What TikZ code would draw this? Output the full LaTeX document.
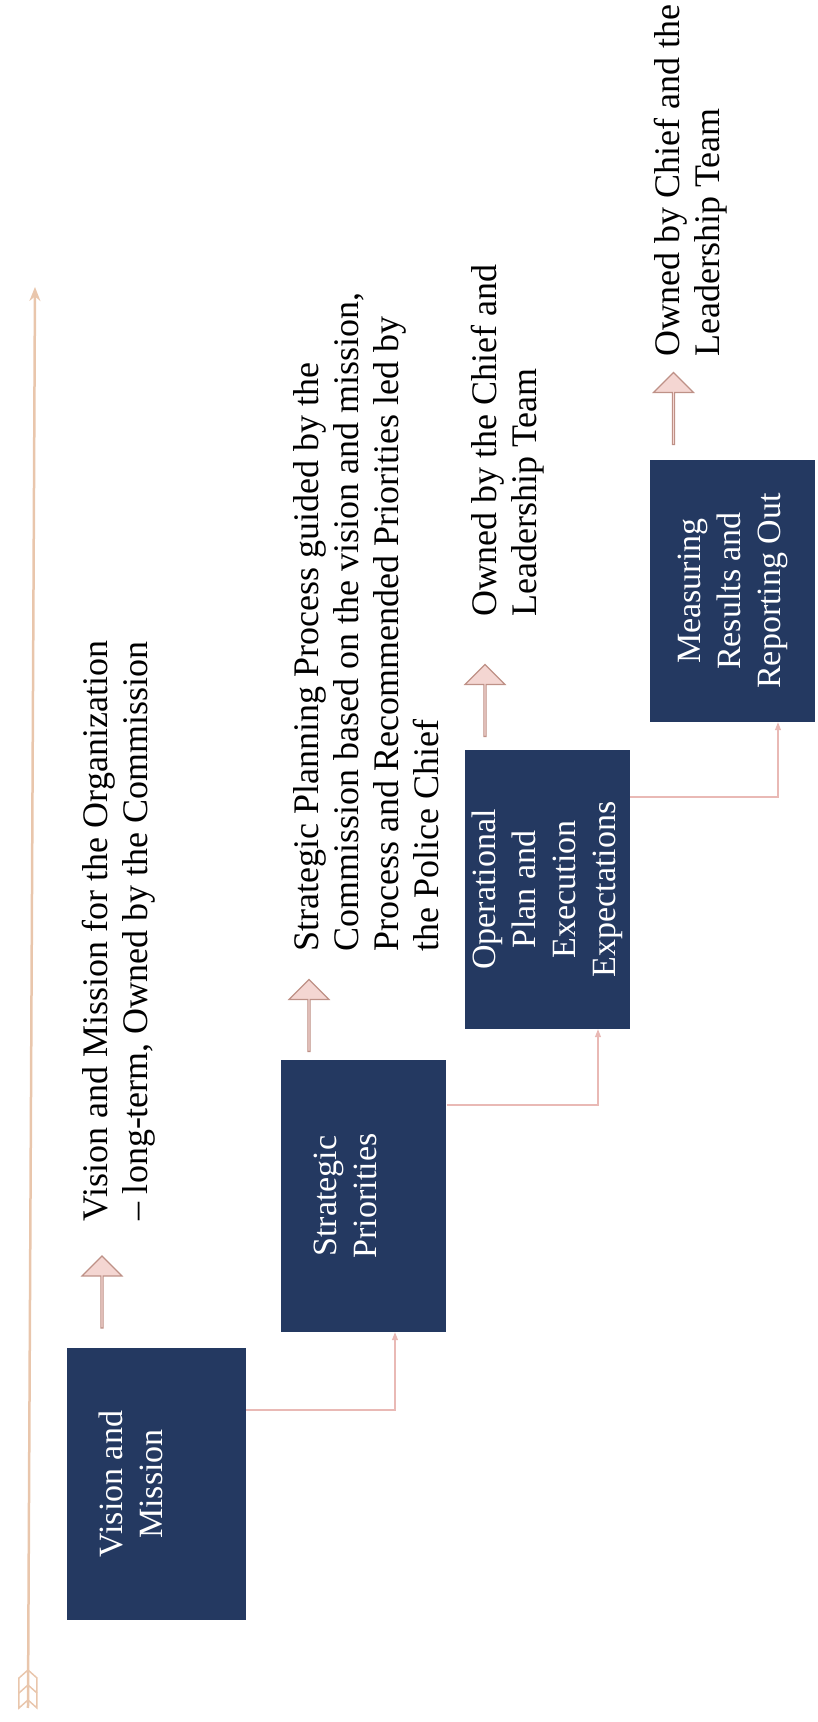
\documentclass[tikz,border=0pt]{standalone}
\usepackage{fontspec}
\setmainfont{Liberation Serif}
\usetikzlibrary{arrows.meta,calc,shapes.arrows}
\definecolor{navy}{RGB}{36,57,97}
\definecolor{linkpink}{RGB}{233,185,181}
\definecolor{arrowfill}{RGB}{244,214,210}
\definecolor{arrowedge}{RGB}{190,145,135}
\definecolor{timeline}{RGB}{233,198,172}
\tikzset{
  stepbox/.style={fill=navy, draw=none, minimum width=272pt, minimum height=165pt, inner sep=0pt},
  boxtext/.style={text=white, align=center, font=\fontsize{34}{40}\selectfont, inner sep=0pt},
  note/.style={text=black, align=left, font=\fontsize{36}{40}\selectfont, inner sep=0pt, anchor=north west},
  uparrow/.style={single arrow, draw=arrowedge, fill=arrowfill, line width=1.2pt,
    minimum height=72pt, minimum width=40pt, single arrow head extend=10pt, inner sep=0pt},
  link/.style={draw=linkpink, line width=1.2pt, -{Triangle[length=8pt,width=6pt]}},
}

\begin{document}
\begin{tikzpicture}[x=1pt, y=1pt, rotate=90, transform shape]
\useasboundingbox (0,0) rectangle (1722,817);

%% Timeline arrow with feathered tail
\coordinate (tail) at (14,789);
\coordinate (head) at (1435,782);
\draw[timeline, line width=2.5pt, -{Stealth[length=14pt,width=11pt]}] (tail) -- (head);
\draw[timeline, line width=1.5pt] (14,780) -- (44,780) -- (52,789) -- (44,798) -- (14,798) -- (22,789) -- cycle;
\draw[timeline, line width=1.5pt] (29,780) -- (37,789) -- (29,798);

%% Step 1: vision and mission
\node[stepbox, minimum height=179pt] (vm) at (238,660.5) {};
\node[boxtext] (vmtext) at ($(vm.center)+(0,26)$) {Vision and\\Mission};
\node[uparrow] (up1) at (429.5,715) {};
\node[note, anchor=north, align=center] (note1) at (791,735)
  {Vision and Mission for the Organization\\– long-term, Owned by the Commission};

%% Step 2: strategic priorities
\node[stepbox] (sp) at (526,453) {};
\node[boxtext] (sptext) at ($(sp.center)+(0,19)$) {Strategic\\Priorities};
\node[uparrow] (up2) at (706,508) {};
\node[note] (note2) at (770,524)
  {Strategic Planning Process guided by the\\Commission based on the vision and mission,\\Process and Recommended Priorities led by\\the Police Chief};

%% Step 3: operational plan
\node[stepbox, minimum width=279pt] (op) at (832.5,269.5) {};
\node[boxtext] (optext) at (op.center) {Operational\\Plan and\\Execution\\Expectations};
\node[uparrow] (up3) at (1021,332) {};
\node[note] (note3) at (1105,346) {Owned by the Chief and\\Leadership Team};

%% Step 4: measuring results
\node[stepbox, minimum width=262pt] (mr) at (1131,84.5) {};
\node[boxtext] (mrtext) at (mr.center) {Measuring\\Results and\\Reporting Out};
\node[uparrow] (up4) at (1313,143.5) {};
\node[note] (note4) at (1365,163) {Owned by Chief and the\\Leadership Team};

%% Elbow links between steps
\draw[link] ($(vm.south)+(74,0)$) |- ($(sp.west)+(0,-31)$);
\draw[link] ($(sp.south)+(91,0)$) |- ($(op.west)+(0,-50.5)$);
\draw[link] ($(op.south)+(92.5,0)$) |- ($(mr.west)+(0,-45.5)$);

\end{tikzpicture}
\end{document}
